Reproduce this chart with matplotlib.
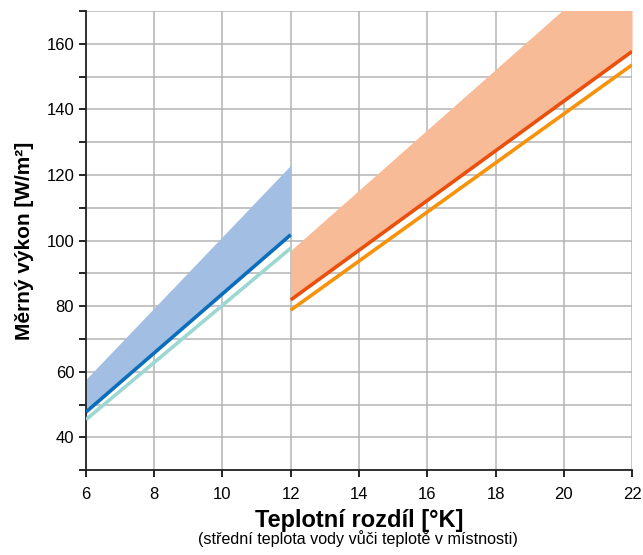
import matplotlib
matplotlib.use("Agg")
import matplotlib.pyplot as plt
import numpy as np

plt.rcParams['font.family'] = ['Liberation Sans', 'DejaVu Sans']

# Low-temperature range (6..12 K)
x_low = [6, 12]
low_band_top = [57.7, 123]
low_line_main = [47.7, 101.8]
low_line_alt = [45.4, 97.7]

# High-temperature range (12..22 K)
x_high = [12, 22]
high_band_top = [97, 189]
high_line_main = [81.9, 157.7]
high_line_alt = [78.8, 153.6]

x_ticks = [6, 8, 10, 12, 14, 16, 18, 20, 22]
y_ticks = [40, 60, 80, 100, 120, 140, 160]

fig = plt.figure(figsize=(6.43, 5.55), dpi=100)
ax = fig.add_axes([0.1337, 0.153, 0.983 - 0.1337, 0.98 - 0.153])

ax.fill_between(x_low, low_line_main, low_band_top, color='#A2BFE3', linewidth=0, zorder=2)
ax.plot(x_low, low_line_alt, color='#9DD7D2', lw=2.6, solid_capstyle='butt', zorder=3)
ax.plot(x_low, low_line_main, color='#0A6EBD', lw=2.6, solid_capstyle='butt', zorder=4)

ax.fill_between(x_high, high_line_main, high_band_top, color='#F8BB98', linewidth=0, zorder=2)
ax.plot(x_high, high_line_alt, color='#F7920A', lw=2.6, solid_capstyle='butt', zorder=3)
ax.plot(x_high, high_line_main, color='#EB4F0C', lw=2.6, solid_capstyle='butt', zorder=4)

ax.set_xlim(6, 22)
ax.set_ylim(30, 170)
ax.set_xticks(x_ticks)
ax.set_yticks(y_ticks)
ax.set_yticks(np.arange(30, 171, 10), minor=True)
ax.tick_params(axis='both', which='major', labelsize=12, direction='out', length=5, width=1.2, color='black')
ax.tick_params(axis='x', which='major', pad=7)
ax.tick_params(axis='y', which='minor', direction='out', length=5, width=1.2, color='black')
ax.grid(True, which='both', color='#B4B4B4', lw=1.1, zorder=0)
ax.set_axisbelow(True)
for s in ['top', 'right']:
    ax.spines[s].set_visible(False)
for s in ['left', 'bottom']:
    ax.spines[s].set_linewidth(1.3)
    ax.spines[s].set_color('#222222')

ax.set_ylabel('Měrný výkon [W/m²]', fontsize=15, fontweight='bold', labelpad=9)
ax.set_xlabel('Teplotní rozdíl [°K]', fontsize=17, fontweight='bold', labelpad=5)
fig.text(0.557, 0.015, '(střední teplota vody vůči teplotě v místnosti)', fontsize=11.6, ha='center', va='bottom')

fig.savefig('out.png', dpi=100)
